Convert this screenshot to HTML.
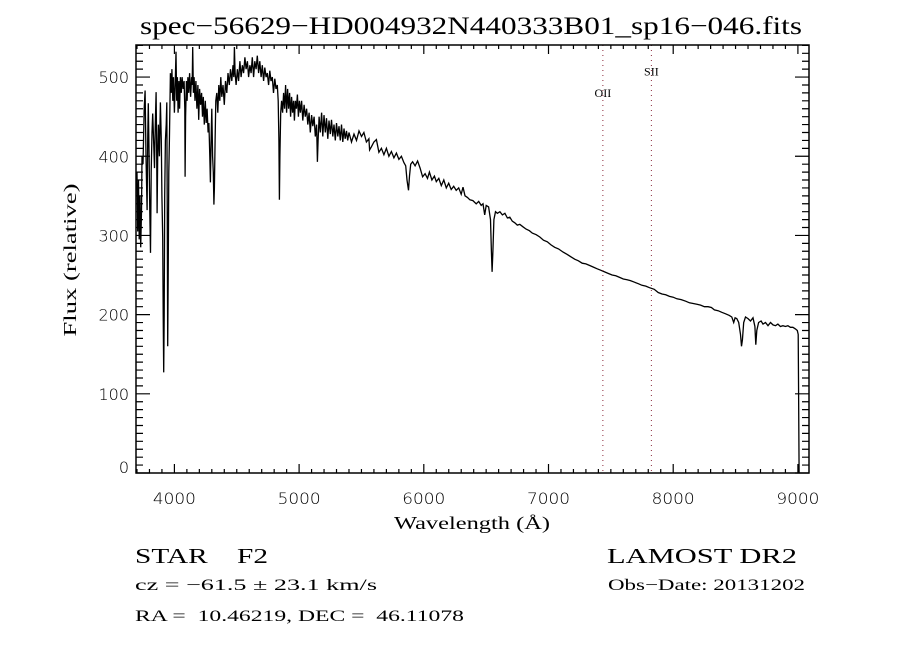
<!DOCTYPE html>
<html><head><meta charset="utf-8"><style>
html,body{margin:0;padding:0;background:#fff;}
svg{display:block;}
svg text{white-space:pre;}
</style></head><body>
<svg id="chart" width="900" height="650" viewBox="0 0 900 650" xmlns="http://www.w3.org/2000/svg">
<rect x="0" y="0" width="900" height="650" fill="#fff"/>
<text x="471" y="34" font-family="Liberation Serif, serif" font-size="25" text-anchor="middle" textLength="662" lengthAdjust="spacingAndGlyphs">spec−56629−HD004932N440333B01_sp16−046.fits</text>
<g id="plot"></g>
<text transform="translate(76,260) rotate(-90)" font-family="Liberation Serif, serif" font-size="18" text-anchor="middle" textLength="153" lengthAdjust="spacingAndGlyphs">Flux (relative)</text>
<text x="472" y="529" font-family="Liberation Serif, serif" font-size="18" text-anchor="middle" textLength="156" lengthAdjust="spacingAndGlyphs">Wavelength (Å)</text>
<text x="135" y="563" font-family="Liberation Serif, serif" font-size="21" textLength="133" lengthAdjust="spacingAndGlyphs">STAR&#160;&#160;&#160;&#160;F2</text>
<text x="607" y="563" font-family="Liberation Serif, serif" font-size="21" textLength="190" lengthAdjust="spacingAndGlyphs">LAMOST DR2</text>
<text x="135" y="590" font-family="Liberation Serif, serif" font-size="16" textLength="242" lengthAdjust="spacingAndGlyphs">cz = −61.5 ± 23.1 km/s</text>
<text x="608" y="590" font-family="Liberation Serif, serif" font-size="16" textLength="197" lengthAdjust="spacingAndGlyphs">Obs−Date: 20131202</text>
<text x="135" y="621" font-family="Liberation Serif, serif" font-size="16" textLength="329" lengthAdjust="spacingAndGlyphs">RA =&#160;&#160;10.46219, DEC =&#160;&#160;46.11078</text>
</svg>
<script>
const wavelengths = [3700,3706,3712,3718,3724,3730,3736,3740,3748,3758,3765,3772,3781,3786,3791,3797,3803,3808,3814,3820,3826,3833,3840,3847,3853,3857,3861,3866,3872,3880,3888,3895,3900,3906,3910,3914,3918,3922,3928,3934,3939,3942,3946,3950,3955,3960,3965,3968,3975,3980,3987,3993,4000,4006,4013,4018,4024,4030,4036,4042,4048,4055,4062,4070,4078,4083,4086,4090,4096,4102,4108,4115,4122,4130,4138,4143,4147,4152,4158,4165,4172,4180,4188,4195,4202,4210,4218,4225,4232,4240,4248,4255,4262,4270,4277,4284,4289,4294,4300,4306,4312,4317,4321,4326,4332,4340,4348,4356,4364,4372,4380,4390,4400,4410,4420,4430,4440,4450,4460,4470,4476,4481,4487,4495,4505,4515,4525,4535,4545,4555,4565,4575,4585,4595,4605,4615,4625,4635,4645,4655,4665,4675,4685,4695,4705,4715,4725,4735,4745,4755,4765,4775,4785,4795,4805,4815,4825,4832,4838,4842,4846,4852,4860,4868,4876,4884,4892,4900,4908,4916,4924,4932,4940,4948,4956,4962,4970,4978,4986,4994,5002,5010,5020,5030,5040,5050,5060,5070,5080,5090,5100,5110,5120,5130,5140,5147,5152,5160,5170,5180,5190,5200,5210,5220,5230,5240,5250,5260,5270,5280,5290,5300,5310,5320,5330,5340,5350,5360,5370,5380,5390,5400,5420,5440,5460,5480,5500,5520,5540,5560,5565,5580,5600,5620,5640,5660,5680,5700,5720,5740,5760,5780,5800,5820,5840,5855,5865,5877,5885,5895,5910,5930,5950,5970,5990,6010,6030,6045,6065,6085,6100,6120,6140,6160,6180,6200,6220,6240,6260,6280,6300,6314,6330,6350,6370,6394,6420,6440,6460,6475,6488,6500,6520,6535,6542,6548,6554,6562,6575,6590,6610,6630,6650,6670,6690,6710,6730,6750,6770,6794,6820,6847,6870,6901,6930,6960,6990,7020,7050,7080,7117,7150,7180,7210,7240,7270,7300,7330,7360,7388,7420,7450,7480,7510,7540,7570,7600,7630,7657,7690,7720,7750,7780,7810,7848,7880,7910,7940,7970,8000,8030,8064,8100,8130,8160,8190,8220,8250,8280,8306,8330,8360,8390,8420,8450,8470,8485,8496,8510,8525,8540,8548,8555,8565,8580,8600,8620,8640,8655,8662,8670,8685,8705,8720,8740,8760,8780,8800,8820,8840,8860,8880,8900,8920,8940,8960,8980,8995,9002,9006,9010];
const fluxValues = [380,305,370,295,350,285,330,400,390,460,483,400,332,420,467,400,330,278,380,430,454,420,385,440,481,420,328,400,440,400,468,420,350,298,200,127,200,350,420,440,468,350,160,250,380,420,470,505,480,510,470,500,455,490,532,470,500,455,495,460,500,480,500,485,495,460,374,450,495,470,500,480,505,475,500,490,538,480,500,470,495,460,490,446,485,465,480,450,475,440,470,442,460,430,442,400,367,420,460,400,380,339,360,420,470,480,455,490,470,500,475,490,465,495,480,505,490,510,495,515,500,538,505,490,510,495,520,500,515,505,525,510,520,500,515,505,525,500,520,510,527,505,520,500,515,495,512,500,505,490,508,495,500,480,498,485,490,470,420,345,400,455,470,455,480,460,490,455,485,460,480,450,475,455,470,445,470,460,478,450,470,455,470,445,465,450,460,440,455,430,452,438,450,425,440,393,420,450,430,455,425,452,430,448,422,445,428,446,425,440,420,442,425,438,420,440,418,435,422,432,420,430,418,428,420,432,425,430,418,422,408,412,418,421,405,410,402,410,400,406,398,404,396,400,392,388,370,357,375,390,393,388,394,385,374,378,372,380,370,375,368,372,363,370,360,366,358,362,357,360,352,361,350,348,345,344,340,343,338,340,326,338,336,320,280,254,280,320,330,328,330,326,328,322,323,318,316,313,314,311,308,306,303,301,298,294,292,288,285,283,279,276,273,270,268,265,264,262,260,258,256,254,252,250,249,247,245,244,243,241,239,237,236,234,232,228,226,225,223,222,220,219,217,215,214,213,212,210,210,209,206,205,203,201,199,197,190,196,195,190,175,160,168,190,197,195,192,196,185,162,180,190,192,188,190,186,190,187,186,188,185,186,185,186,184,184,182,180,175,100,0];
const xTickValues = [4000,5000,6000,7000,8000,9000];
const xTickLabels = ["4000","5000","6000","7000","8000","9000"];
const yTickValues = [0,100,200,300,400,500];
const yTickLabels = ["0","100","200","300","400","500"];
const lineWavelengths = [7436,7825];
const lineLabels = ["OII","SII"];
const lineLabelFlux = [475,502];

const NS = "http://www.w3.org/2000/svg";
const plot = document.getElementById('plot');
const L = 136, R = 809, T = 45, B = 473;
const xMin = 3692, xMax = 9089, yMin = 0, yMax = 540.5;
function xs(w){ return L + (w - xMin) / (xMax - xMin) * (R - L); }
function ys(f){ return B - (f - yMin) / (yMax - yMin) * (B - T); }
function mk(tag, attrs){ const e = document.createElementNS(NS, tag); for (const k in attrs) e.setAttribute(k, attrs[k]); plot.appendChild(e); return e; }

let d = '';
for (let i = 0; i < wavelengths.length; i++) d += (i ? 'L' : 'M') + xs(wavelengths[i]).toFixed(1) + ' ' + ys(fluxValues[i]).toFixed(1);
const sp = mk('path', {d: d, fill: 'none', stroke: '#000', 'stroke-width': '1.3', 'stroke-linejoin': 'miter'});



for (let i = 0; i < lineWavelengths.length; i++) {
  const x = xs(lineWavelengths[i]);
  const ln = mk('line', {x1: x, x2: x, y1: T, y2: B, stroke: '#8b2a3a', 'stroke-width': '1', 'stroke-dasharray': '1,4'});
  
  
  const t = mk('text', {x: x, y: ys(lineLabelFlux[i]), 'font-family': 'Liberation Serif, serif', 'font-size': '12', 'text-anchor': 'middle'});
  t.textContent = lineLabels[i];
  
  
}

const fr = mk('rect', {x: L, y: T, width: R - L, height: B - T, fill: 'none', stroke: '#000', 'stroke-width': '1.5'});



let td = '';
for (let w = 3700; w <= 9000; w += 100) {
  const x = xs(w); const len = (w % 1000 === 0) ? 9 : 4;
  td += `M${x} ${B}v${-len}M${x} ${T}v${len}`;
}
for (let f = 0; f <= 540; f += 10) {
  const y = ys(f); const len = (f % 100 === 0) ? 14 : 7;
  td += `M${L} ${y}h${len}M${R} ${y}h${-len}`;
}
const tk = mk('path', {d: td, stroke: '#000', 'stroke-width': '1.2', fill: 'none'});



for (let i = 0; i < xTickValues.length; i++) {
  const t = mk('text', {x: xs(xTickValues[i]), y: 504, 'font-family': 'DejaVu Sans, sans-serif', 'font-size': '16', 'font-weight': '200', 'text-anchor': 'middle', textLength: '43', lengthAdjust: 'spacingAndGlyphs'});
  t.textContent = xTickLabels[i];
  
  
}
for (let i = 0; i < yTickValues.length; i++) {
  const yy = (yTickValues[i] === 0) ? ys(0) : ys(yTickValues[i]) + 6;
  const t = mk('text', {x: 129, y: yy, 'font-family': 'DejaVu Sans, sans-serif', 'font-size': '16', 'font-weight': '200', 'text-anchor': 'end'});
  t.textContent = yTickLabels[i];
  
  
}
</script>
</body></html>
